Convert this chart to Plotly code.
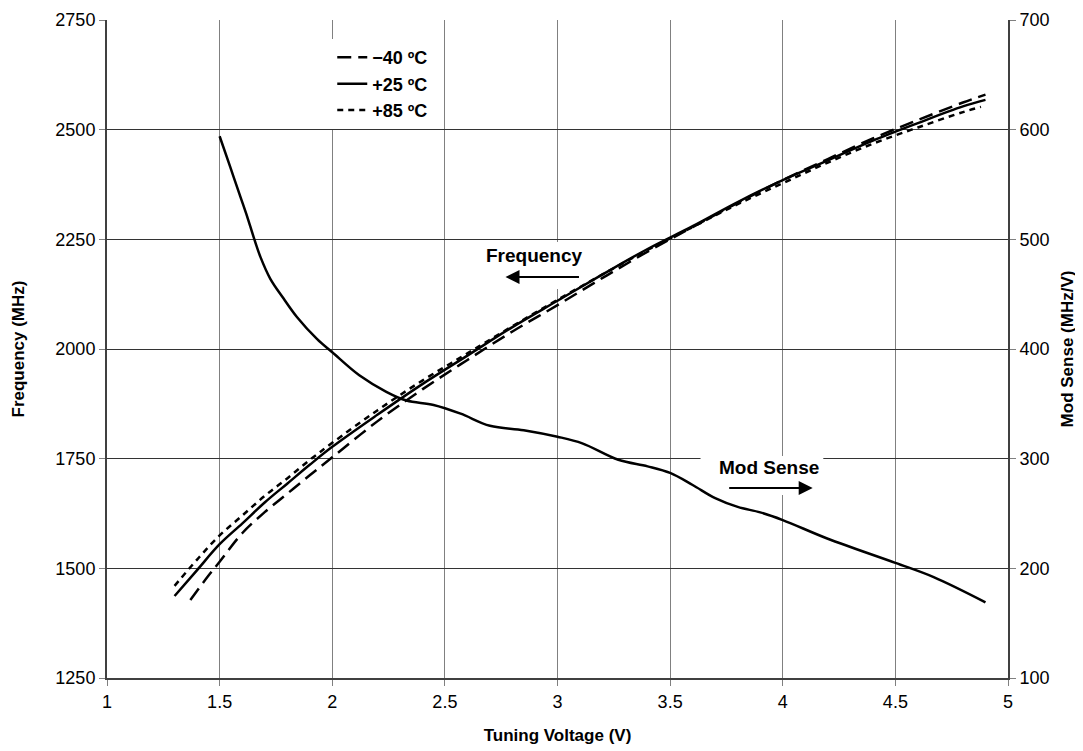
import plotly.graph_objects as go

FONT = "Liberation Sans, Arial, sans-serif"

# Frequency curves (left axis, MHz)
x_m40 = [1.37, 1.45, 1.5, 1.6, 1.7, 1.8, 1.9, 2.0, 2.2, 2.4, 2.6, 2.8, 3.0, 3.2, 3.4, 3.6, 3.8, 4.0, 4.2, 4.4, 4.6, 4.8, 4.9]
f_m40 = [1428, 1483, 1515, 1580, 1628, 1670, 1712, 1753, 1835, 1908, 1975, 2040, 2100, 2162, 2222, 2278, 2333, 2385, 2433, 2480, 2522, 2562, 2580]

x_p25 = [1.3, 1.4, 1.5, 1.6, 1.7, 1.8, 1.9, 2.0, 2.2, 2.4, 2.6, 2.8, 3.0, 3.2, 3.4, 3.6, 3.8, 4.0, 4.2, 4.4, 4.6, 4.8, 4.9]
f_p25 = [1437, 1496, 1555, 1602, 1650, 1693, 1736, 1777, 1850, 1920, 1985, 2050, 2110, 2170, 2228, 2280, 2335, 2385, 2430, 2475, 2515, 2553, 2568]

x_p85 = [1.3, 1.4, 1.5, 1.6, 1.7, 1.8, 1.9, 2.0, 2.2, 2.4, 2.6, 2.8, 3.0, 3.2, 3.4, 3.6, 3.8, 4.0, 4.2, 4.4, 4.6, 4.8, 4.88]
f_p85 = [1460, 1520, 1575, 1620, 1665, 1705, 1747, 1786, 1860, 1928, 1990, 2052, 2112, 2170, 2226, 2278, 2330, 2378, 2425, 2468, 2505, 2540, 2552]

# Mod sense (right axis, MHz/V)
x_ms = [1.5, 1.547, 1.592, 1.622, 1.651, 1.681, 1.725, 1.784, 1.844, 1.933, 2.0, 2.12, 2.24, 2.33, 2.45, 2.57, 2.7, 2.85, 3.0, 3.11, 3.27, 3.4, 3.5, 3.6, 3.7, 3.8, 3.9, 4.0, 4.2, 4.5, 4.67, 4.9]
ms = [594, 566, 539, 521, 502, 484, 464, 446, 429, 409, 397, 376, 361, 353, 349, 341, 330, 326, 320, 314, 299, 293, 287, 276, 264, 256, 251, 244, 227, 205, 192, 169]

x_ticks = [1, 1.5, 2, 2.5, 3, 3.5, 4, 4.5, 5]
y_ticks = [1250, 1500, 1750, 2000, 2250, 2500, 2750]
y2_ticks = [100, 200, 300, 400, 500, 600, 700]

fig = go.Figure()
fig.add_trace(go.Scatter(x=x_m40, y=f_m40, mode="lines", name="\u221240 \u00baC",
                         line=dict(color="black", width=2.5, dash="14px,7px"), line_shape="spline"))
fig.add_trace(go.Scatter(x=x_p25, y=f_p25, mode="lines", name="+25 \u00baC",
                         line=dict(color="black", width=2.5), line_shape="spline"))
fig.add_trace(go.Scatter(x=x_p85, y=f_p85, mode="lines", name="+85 \u00baC",
                         line=dict(color="black", width=2.5, dash="6px,5px"), line_shape="spline"))
fig.add_trace(go.Scatter(x=x_ms, y=ms, mode="lines", name="Mod Sense", yaxis="y2", showlegend=False,
                         line=dict(color="black", width=2.5), line_shape="spline"))

# white boxes behind labels (cover gridlines)
fig.add_shape(type="rect", xref="x", yref="y", x0=2.74, x1=3.15, y0=2137, y1=2244,
              fillcolor="white", line=dict(width=0), layer="between")
fig.add_shape(type="rect", xref="x", yref="y", x0=3.635, x1=4.18, y0=1667, y1=1756,
              fillcolor="white", line=dict(width=0), layer="between")

fig.add_annotation(x=2.90, y=2214, text="<b>Frequency</b>", showarrow=False,
                   font=dict(family=FONT, size=19, color="black"))
fig.add_annotation(x=2.769, y=2164, ax=75, ay=0, text="", showarrow=True,
                   arrowhead=2, arrowsize=1.4, arrowwidth=2, arrowcolor="black")
fig.add_annotation(x=3.94, y=1729, text="<b>Mod Sense</b>", showarrow=False,
                   font=dict(family=FONT, size=19, color="black"))
fig.add_annotation(x=4.133, y=1683, ax=-85, ay=0, text="", showarrow=True,
                   arrowhead=2, arrowsize=1.4, arrowwidth=2, arrowcolor="black")

fig.update_layout(
    width=1075, height=743,
    margin=dict(l=99, r=75, t=12, b=73),
    paper_bgcolor="white", plot_bgcolor="white",
    font=dict(family=FONT, size=18, color="black"),
    showlegend=True,
    legend=dict(x=0.25, y=0.971, xanchor="left", yanchor="top",
                bgcolor="white", borderwidth=0,
                font=dict(family=FONT, size=18, color="black", weight="bold"),
                tracegroupgap=0),
    xaxis=dict(range=[1, 5], tickvals=x_ticks, ticktext=[str(v) for v in x_ticks],
               showgrid=True, gridcolor="#808080", gridwidth=1,
               showline=True, linecolor="#404040", linewidth=2,
               ticks="outside", ticklen=6, tickcolor="#808080",
               zeroline=False, automargin=False,
               tickfont=dict(family=FONT, size=18, color="black"),
               title=dict(text="<b>Tuning Voltage (V)</b>", standoff=19,
                          font=dict(family=FONT, size=17, color="black"))),
    yaxis=dict(range=[1250, 2750], tickvals=y_ticks,
               showgrid=True, gridcolor="#333333", gridwidth=1,
               showline=True, linecolor="#404040", linewidth=2,
               ticks="outside", ticklen=6, tickcolor="#808080",
               zeroline=False, automargin=False,
               tickfont=dict(family=FONT, size=18, color="black"),
               title=dict(text="<b>Frequency (MHz)</b>", standoff=26,
                          font=dict(family=FONT, size=17, color="black"))),
    yaxis2=dict(range=[100, 700], tickvals=y2_ticks, overlaying="y", side="right",
                showgrid=False, showline=True, linecolor="#404040", linewidth=2,
                ticks="outside", ticklen=6, tickcolor="#808080",
                zeroline=False, automargin=False,
                tickfont=dict(family=FONT, size=18, color="black"),
                title=dict(text="<b>Mod Sense (MHz/V)</b>", standoff=12,
                           font=dict(family=FONT, size=17, color="black"))),
)

fig.write_html("out.html")
